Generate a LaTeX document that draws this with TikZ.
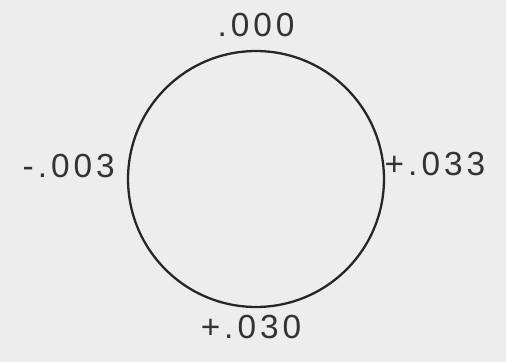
\documentclass[tikz,border=0pt]{standalone}
\usepackage{fontspec}
\setmainfont{Liberation Sans}
\usepackage[svgnames]{xcolor}
\usetikzlibrary{positioning}

\begin{document}
\begin{tikzpicture}[
    x=0.02cm, y=-0.02cm,
    sheet/.style={fill=black!7, draw=none},
    ring/.style={circle, draw=black!85, line width=1.3pt, minimum size=5.12cm, inner sep=0pt},
    reading/.style={font=\fontsize{19}{22}\selectfont\addfontfeature{LetterSpace=12}, text=black!80, inner sep=1pt}
]
    % --- Blatt ---
    \fill[sheet] (0,0) rectangle (506,362);
    \useasboundingbox (0,0) rectangle (506,362);

    % --- Kreis ---
    \node[ring] (ring) at (256,179) {};

    % --- Messwerte ---
    \node[reading, above=0.22cm of ring.north] (top) {.000};
    \node[reading, left=0.2cm of ring.west, yshift=0.25cm] (left) {-.003};
    \node[reading, right=-0.05cm of ring.east, yshift=0.3cm] (right) {+.033};
    \node[reading, below=0.1cm of ring.south, xshift=-0.1cm] (bottom) {+.030};

\end{tikzpicture}
\end{document}
